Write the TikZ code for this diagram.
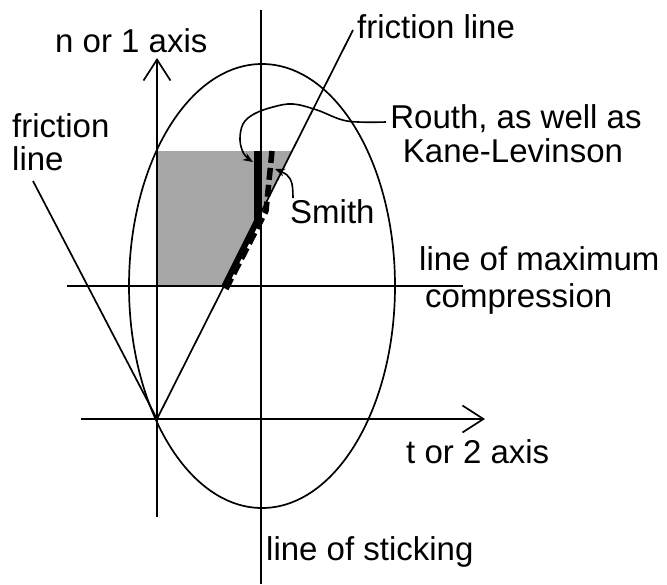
\documentclass[tikz,border=0pt]{standalone}
\usepackage{fontspec}
\setmainfont{Liberation Sans}
\usetikzlibrary{arrows.meta}
\definecolor{shadegray}{RGB}{166,166,166}
\begin{document}
\begin{tikzpicture}[x=1pt,y=-1pt,
  thinline/.style={line width=1.7pt, line cap=butt},
  thickline/.style={line width=6pt},
  thickdash/.style={line width=5.5pt, dash pattern=on 12pt off 5pt},
  openarrow/.style={-{Straight Barb[length=21pt,width=27pt,line width=1.7pt]}},
  ptr/.style={line width=1.6pt,-{Stealth[length=10pt,width=8pt]}},
  lbl/.style={font=\fontsize{33}{34}\selectfont, inner sep=0pt, anchor=base west},
  lblc/.style={font=\fontsize{33}{34}\selectfont, inner sep=0pt, anchor=base}]
\useasboundingbox (0,0) rectangle (667,584);
% coordinates
\coordinate (O) at (157,419);
\coordinate (nbot) at (157,517);
\coordinate (ntop) at (157,58);
\coordinate (tleft) at (81,419);
\coordinate (tright) at (485,419);
\coordinate (stop) at (261,10);
\coordinate (sbot) at (261,584);
\coordinate (mleft) at (67,286);
\coordinate (mright) at (463,286);
\coordinate (frtop) at (353,30);
\coordinate (fltop) at (33,181);
% shaded region
\fill[shadegray] (157,151) -- (292,151) -- (224,286) -- (157,286) -- cycle;
% ellipse
\draw[thinline] (262,286) ellipse [x radius=133pt, y radius=222pt];
% axes and lines
\draw[thinline, openarrow] (nbot) -- (ntop);
\draw[thinline, openarrow] (tleft) -- (tright);
\draw[thinline] (stop) -- (sbot);
\draw[thinline] (mleft) -- (mright);
\draw[thinline] (O) -- (frtop);
\draw[thinline] (O) -- (fltop);
% thick paths
\draw[thickline] (224,287) -- (257,221) -- (257,151);
\draw[thickdash] (226,289) -- (266,211) -- (272,151);
% labels
\node[lbl] (nlab) at (55,52) {n or 1 axis};
\node[lbl] (frlab) at (357,38) {friction line};
\node[lbl] (fl1) at (12,137) {friction};
\node[lbl] (fl2) at (12,170) {line};
\node[lblc] (routh1) at (516,128) {Routh, as well as};
\node[lblc] (routh2) at (513,162) {Kane-Levinson};
\node[lbl] (smith) at (290,223) {Smith};
\node[lbl] (lmc1) at (419,270) {line of maximum};
\node[lbl] (lmc2) at (425,307) {compression};
\node[lbl] (tlab) at (406,463) {t or 2 axis};
\node[lbl] (slab) at (266,560) {line of sticking};
% pointers
\coordinate (rstart) at (386,122);
\coordinate (rend) at (253,162);
\coordinate (sstart) at (293,198);
\coordinate (send) at (275,169);
\draw[ptr] plot[smooth, tension=0.6] coordinates {(rstart) (347,121) (317,110) (293,104) (273,107) (254,114) (243,124) (240,140) (244,154) (rend)};
\draw[ptr] plot[smooth, tension=0.6] coordinates {(sstart) (292,184) (287,175) (send)};
\end{tikzpicture}
\end{document}
